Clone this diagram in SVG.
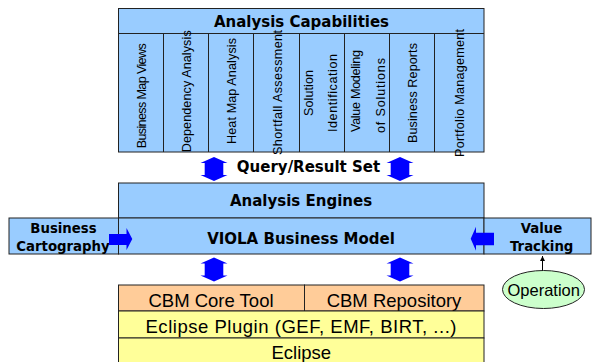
<svg xmlns="http://www.w3.org/2000/svg" width="593" height="362" viewBox="0 0 593 362">
<style>
.blue{fill:#99CCFF;stroke:#222;stroke-width:1}
.org{fill:#FFCC99;stroke:#222;stroke-width:1}
.yel{fill:#FFFF99;stroke:#222;stroke-width:1}
.grn{fill:#CCFFCC;stroke:#222;stroke-width:1}
.ln{stroke:#222;stroke-width:1;fill:none}
.b{font-family:"DejaVu Sans","Liberation Sans",sans-serif;font-weight:bold;fill:#000;text-anchor:middle}
.r{font-family:"Liberation Sans",Arial,sans-serif;fill:#000;text-anchor:middle}
.col{font-family:"Liberation Sans",Arial,sans-serif;font-size:12.6px;fill:#000;text-anchor:middle}
.arr{fill:#0000FF}
</style>
<defs>
<path id="vdbl" d="M0,-12 L13.5,-6 L9.3,-6 L9.3,6 L13.5,6 L0,12 L-13.5,6 L-9.3,6 L-9.3,-6 L-13.5,-6 Z"/>
<marker id="tip" markerWidth="6" markerHeight="6" refX="5" refY="3" orient="auto" markerUnits="userSpaceOnUse">
<path d="M0,0.5 L5,3 L0,5.5 Z" fill="#000"/>
</marker>
</defs>

<g id="analysis-capabilities">
<rect class="blue" x="118.5" y="8.5" width="365.5" height="143.5"/>
<line class="ln" x1="118.5" y1="33.5" x2="484" y2="33.5"/>
<line class="ln" x1="163.5" y1="33.5" x2="163.5" y2="152"/>
<line class="ln" x1="208.5" y1="33.5" x2="208.5" y2="152"/>
<line class="ln" x1="253.5" y1="33.5" x2="253.5" y2="152"/>
<line class="ln" x1="299.5" y1="33.5" x2="299.5" y2="152"/>
<line class="ln" x1="344.5" y1="33.5" x2="344.5" y2="152"/>
<line class="ln" x1="389.5" y1="33.5" x2="389.5" y2="152"/>
<line class="ln" x1="434.5" y1="33.5" x2="434.5" y2="152"/>
<text class="b" x="301.5" y="26.5" font-size="15">Analysis Capabilities</text>
<text class="col" transform="translate(146,95.8) rotate(-90)" textLength="105" lengthAdjust="spacing">Business Map Views</text>
<text class="col" transform="translate(191,91.3) rotate(-90)" textLength="122" lengthAdjust="spacing">Dependency Analysis</text>
<text class="col" transform="translate(236,91) rotate(-90)" textLength="106" lengthAdjust="spacing">Heat Map Analysis</text>
<text class="col" transform="translate(281.7,92.5) rotate(-90)" textLength="125" lengthAdjust="spacing">Shortfall Assessment</text>
<text class="col" transform="translate(313.3,93) rotate(-90)" textLength="46" lengthAdjust="spacing">Solution</text>
<text class="col" transform="translate(337.3,93) rotate(-90)" textLength="78" lengthAdjust="spacing">Identification</text>
<text class="col" transform="translate(360,91) rotate(-90)" textLength="82" lengthAdjust="spacing">Value Modeling</text>
<text class="col" transform="translate(385,95.5) rotate(-90)" textLength="75" lengthAdjust="spacing">of Solutions</text>
<text class="col" transform="translate(416.7,93) rotate(-90)" textLength="100" lengthAdjust="spacing">Business Reports</text>
<text class="col" transform="translate(464,93) rotate(-90)" textLength="128" lengthAdjust="spacing">Portfolio Management</text>
</g>

<g id="query-result-set">
<text class="b" x="308.5" y="171.5" font-size="15">Query/Result Set</text>
</g>

<g id="analysis-engines">
<rect class="blue" x="118.5" y="183" width="365.5" height="35"/>
<text class="b" x="301" y="206" font-size="15">Analysis Engines</text>
</g>

<g id="viola-business-model">
<rect class="blue" x="118.5" y="218" width="365.5" height="36"/>
<text class="b" x="301" y="243.5" font-size="15">VIOLA Business Model</text>
</g>

<g id="business-cartography">
<rect class="blue" x="9" y="218" width="109.5" height="36"/>
<text class="b" x="63.5" y="233.3" font-size="13.3">Business</text>
<text class="b" x="63" y="250.5" font-size="13.3">Cartography</text>
</g>

<g id="value-tracking">
<rect class="blue" x="484" y="218" width="107" height="36"/>
<text class="b" x="541.5" y="233.3" font-size="13.3">Value</text>
<text class="b" x="541.7" y="250.5" font-size="13.3">Tracking</text>
</g>

<g id="operation">
<ellipse class="grn" cx="543.5" cy="289.5" rx="41" ry="19"/>
<text class="r" x="543.7" y="295.5" font-size="16.5">Operation</text>
</g>

<g id="cbm-core-tool">
<rect class="org" x="118.5" y="285" width="186" height="26"/>
<text class="r" x="211" y="306.5" font-size="18.5">CBM Core Tool</text>
</g>

<g id="cbm-repository">
<rect class="org" x="304.5" y="285" width="179.5" height="26"/>
<text class="r" x="394" y="306.5" font-size="18.5">CBM Repository</text>
</g>

<g id="eclipse-plugin">
<rect class="yel" x="118.5" y="311" width="365.5" height="27"/>
<text class="r" x="301" y="332.5" font-size="18.5" textLength="311" lengthAdjust="spacing">Eclipse Plugin (GEF, EMF, BIRT, ...)</text>
</g>

<g id="eclipse">
<rect class="yel" x="118.5" y="338" width="365.5" height="30"/>
<text class="r" x="301.3" y="358.5" font-size="18.5">Eclipse</text>
</g>

<g id="connectors">
<use href="#vdbl" class="arr" transform="translate(214,169)"/>
<use href="#vdbl" class="arr" transform="translate(400,169)"/>
<use href="#vdbl" class="arr" transform="translate(214,269.5)"/>
<use href="#vdbl" class="arr" transform="translate(400,269.5)"/>
<path class="arr" d="M109,234 L126.5,234 L126.5,228 L132.3,239 L126.5,250 L126.5,245 L109,245 Z"/>
<path class="arr" d="M494,232.7 L476,232.7 L476,226.7 L470.7,238.7 L476,250.7 L476,245.3 L494,245.3 Z"/>
<line x1="542.5" y1="270.5" x2="542.5" y2="256" stroke="#000" stroke-width="1" marker-end="url(#tip)"/>
</g>
</svg>
